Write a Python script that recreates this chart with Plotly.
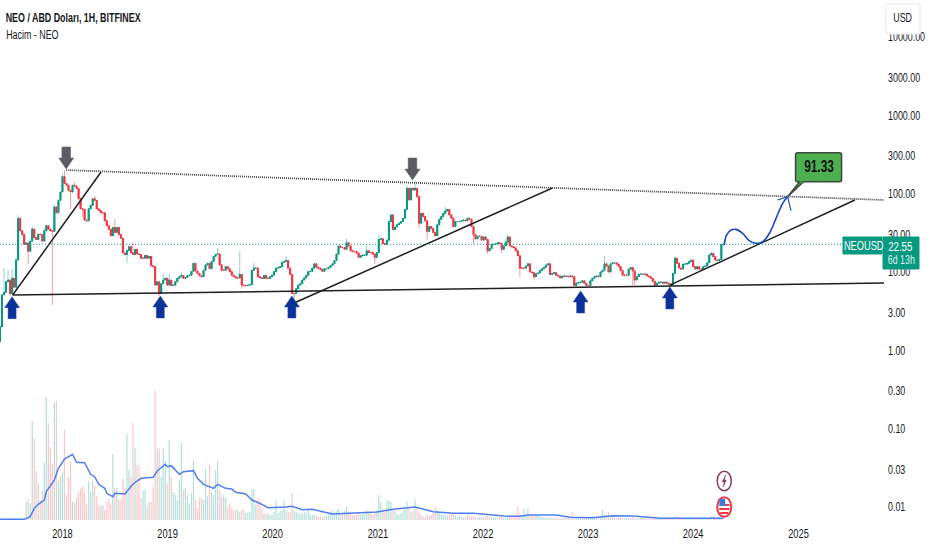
import pandas as pd
import plotly.graph_objects as go

# weekly candles, first one is the week of 2017-05-29
START = "2017-05-29"
FIRST_OPEN = 1.3

closes = [
    2.0, 5.1, 5.5, 7.5, 7.9, 5.3, 8.3, 6.4, 14.3, 48,
    33.6, 30, 22.5, 23.5, 18.4, 24.8, 35.3, 27.5, 26, 30.4,
    30, 24.8, 33.6, 39, 35.3, 33.6, 33, 67.6, 57, 82,
    105, 165, 135, 128, 110, 105, 128, 125, 116, 86,
    64, 63, 46, 45, 64, 71, 86, 82, 64, 61,
    57, 57, 45, 39, 35, 29, 37, 32, 37, 30,
    27, 17.5, 16.7, 18.8, 21, 17.5, 16.7, 19.4, 17, 16.7,
    15, 15, 16.3, 15, 15.8, 12, 11.7, 6.8, 7.5, 5.3,
    7.1, 7.9, 8.3, 6.8, 7.9, 6.7, 6.8, 7.5, 8.3, 8.7,
    9, 8.3, 8.5, 9, 9.1, 10.1, 12.9, 10.3, 9.6, 9,
    8.7, 10.5, 12.3, 12.9, 11, 13.6, 15.8, 16.7, 17, 12.3,
    10.5, 10.5, 11.7, 11, 10.1, 9.1, 8.7, 8.4, 8.4, 9.3,
    6.8, 6.7, 6.7, 6.8, 6.9, 10.5, 11.2, 11.2, 8.7, 8.4,
    8.3, 9, 8.3, 8.3, 8.7, 9.1, 10.1, 11.2, 11.4, 11.7,
    13.3, 13.6, 14, 11.2, 9.3, 5.3, 5.3, 6.1, 6.8, 7.1,
    7.9, 8.4, 9.1, 10.1, 10.2, 11.2, 12.7, 11.5, 11.2, 10.8,
    10.2, 11, 11, 11.4, 12.1, 12.7, 14, 16.9, 21.5, 20.5,
    20.5, 19.5, 23.6, 21.5, 18.6, 18.2, 18.2, 17.4, 15.4, 16.1,
    16.4, 16.4, 18.6, 17.7, 17.7, 16.9, 15.4, 17.7, 26, 26.5,
    23, 22.5, 25.5, 44, 53.5, 34.7, 37.5, 40, 42, 44,
    48.6, 63, 117, 83, 117, 111, 117, 91.5, 42, 56,
    51, 45, 33, 38, 36, 32, 29, 40, 47, 51,
    56, 60, 63, 53.5, 48.6, 38, 44, 44, 44, 45,
    46, 45, 48.6, 47, 38, 30, 26.5, 28.6, 28.6, 25.5,
    28, 26, 18.6, 20, 22.5, 22.5, 23, 23.6, 23, 19.5,
    21.5, 24, 28, 21.5, 21, 20.3, 18.6, 16.1, 11.2, 11.2,
    11.2, 11.9, 12.7, 10, 9.8, 8.7, 9.5, 9.7, 10.5, 11,
    11.5, 12.3, 12.7, 9.3, 9.5, 9.8, 9.1, 8.9, 8.4, 8.8,
    8.9, 8.8, 8.7, 8.9, 8.7, 6.7, 7.2, 7.3, 7.4, 7.7,
    7.2, 6.7, 6.7, 7.7, 8.3, 8.7, 8.9, 8.7, 10, 10.5,
    12.7, 11.9, 10, 12.7, 13.1, 13.1, 12.6, 11.7, 10.4, 9.1,
    9.1, 9.1, 10.9, 11.4, 10.3, 7.9, 8.7, 9.4, 9.4, 9.3,
    9.4, 8.9, 8.7, 8.3, 7.6, 6.8, 7.2, 7.4, 7.4, 7.2,
    7.4, 7.2, 7, 6.8, 9.6, 15, 12.9, 11.2, 10.9, 12.6,
    12.6, 12.9, 13.6, 14.2, 11.7, 10.9, 11.7, 10.9, 10.9, 11.7,
    11.9, 13.1, 16.5, 17.3, 15.7, 14.2, 14, 14.4, 22.2, 22.55,
]

# long wicks only, week number -> price
wick_highs = {
    2: 11.2, 4: 10.5, 6: 11, 9: 53, 10: 50, 16: 38, 22: 36, 27: 72, 31: 180, 32: 198,
    37: 140, 47: 92, 57: 48, 66: 24, 81: 9.5, 84: 9.5, 90: 10, 108: 20, 119: 18.4,
    126: 13, 142: 16, 172: 26.5, 182: 22.5, 188: 30, 202: 128, 206: 147, 221: 68,
    251: 26, 252: 30, 300: 16, 335: 15.7, 353: 18, 358: 23,
}
wick_lows = {
    0: 1.23, 5: 5, 14: 12.6, 26: 3.8, 35: 64, 41: 50, 63: 12.9, 79: 4.9, 120: 6.1,
    146: 4.1, 186: 12.7, 208: 36, 212: 26, 235: 22.5, 242: 17, 249: 17.5, 258: 8.7,
    265: 8, 314: 6.8, 315: 6.8, 325: 6.5,
}

volumes = [
    1, 1, 1, 1, 1, 1, 1, 1, 1, 1,
    1, 1, 1, 55, 62, 50, 297, 245, 147, 110,
    60, 88, 172, 370, 290, 218, 168, 352, 357, 118,
    132, 143, 270, 75, 130, 175, 55, 52, 68, 87,
    95, 100, 85, 45, 117, 85, 118, 105, 72, 45,
    42, 45, 30, 55, 62, 50, 198, 95, 97, 62,
    62, 125, 95, 258, 150, 130, 290, 217, 165, 165,
    65, 88, 92, 40, 55, 55, 100, 388, 215, 215,
    130, 215, 175, 110, 240, 130, 85, 75, 60, 118,
    230, 90, 95, 75, 50, 80, 178, 62, 35, 65,
    68, 60, 155, 70, 165, 85, 75, 150, 178, 90,
    70, 75, 65, 38, 50, 35, 30, 30, 32, 25,
    32, 30, 20, 22, 25, 92, 92, 45, 65, 60,
    35, 20, 20, 20, 15, 15, 25, 60, 20, 28,
    30, 60, 30, 25, 25, 82, 30, 25, 20, 18,
    20, 25, 20, 30, 15, 15, 18, 14, 10, 12,
    8, 10, 14, 20, 25, 30, 22, 28, 35, 20,
    22, 28, 40, 25, 18, 15, 14, 16, 20, 15,
    16, 18, 28, 20, 22, 16, 22, 30, 75, 55,
    30, 25, 60, 58, 55, 30, 28, 18, 16, 22,
    30, 40, 55, 35, 25, 30, 62, 40, 25, 15,
    12, 10, 18, 14, 15, 22, 38, 30, 22, 18,
    15, 16, 14, 15, 18, 22, 14, 10, 12, 10,
    8, 10, 18, 12, 10, 14, 10, 8, 10, 9,
    8, 10, 12, 9, 8, 7, 8, 7, 8, 10,
    7, 6, 8, 9, 10, 12, 14, 40, 22, 15,
    33, 18, 35, 18, 12, 10, 14, 12, 10, 9,
    8, 7, 6, 8, 6, 5, 5, 5, 5, 6,
    7, 9, 8, 10, 25, 10, 8, 7, 6, 6,
    8, 6, 7, 6, 12, 10, 9, 10, 14, 30,
    16, 12, 25, 10, 9, 8, 7, 8, 6, 7,
    5, 6, 5, 6, 8, 6, 5, 5, 6, 7,
    6, 5, 5, 4, 5, 6, 5, 5, 5, 4,
    6, 5, 5, 4, 8, 12, 9, 7, 8, 7,
    6, 6, 7, 6, 7, 8, 6, 6, 5, 6,
    7, 6, 8, 12, 14, 10, 8, 9, 6,
]

# volume moving average, read at its turning points
ma_weeks = [
    0, 12, 15, 17, 19, 22, 23, 27, 29, 32, 36, 38, 42, 45, 47, 49, 52, 53, 56, 57, 62, 66, 70, 76,
    78, 82, 83, 85, 89, 91, 96, 98, 101, 106, 108, 112, 115, 117, 122, 125, 130, 133, 142, 145,
    150, 155, 165, 175, 187, 195, 206, 215, 225, 235, 250, 258, 262, 276, 283, 294, 304, 314, 328, 359,
]
ma_values = [
    2, 2, 10, 35, 47, 60, 85, 120, 155, 183, 197, 173, 172, 137, 130, 107, 95, 80, 70, 80, 78, 108, 125, 128,
    147, 167, 160, 163, 137, 145, 148, 125, 107, 95, 107, 95, 93, 83, 78, 60, 47, 37, 39, 41,
    31, 32, 18, 21, 24, 32, 39, 25, 20, 20, 12, 11, 15, 15, 8, 7, 13, 12, 5, 5,
]

y_ticks = [10000, 3000, 1000, 300, 100, 30, 10, 3, 1, 0.3, 0.1, 0.03, 0.01]
y_labels = ["10000.00", "3000.00", "1000.00", "300.00", "100.00", "30.00", "10.00",
            "3.00", "1.00", "0.30", "0.10", "0.03", "0.01"]
x_ticks = ["2018-01-01", "2019-01-01", "2020-01-01", "2021-01-01",
           "2022-01-01", "2023-01-01", "2024-01-01", "2025-01-01"]
x_labels = ["2018", "2019", "2020", "2021", "2022", "2023", "2024", "2025"]

# drawn trend lines
support_dates = ["2017-07-12", "2025-10-25"]
support_prices = [5.08, 7.24]
resistance_dates = ["2018-01-14", "2025-10-25"]
resistance_prices = [200, 83]
rise1_dates = ["2017-07-12", "2018-05-15"]
rise1_prices = [5.08, 189]
rise2_dates = ["2020-03-08", "2022-08-30"]
rise2_prices = [3.9, 118]
rise3_dates = ["2023-10-12", "2025-07-16"]
rise3_prices = [6.8, 83]

# projected path
path_dates = ["2024-04-18", "2024-04-26", "2024-05-12", "2024-05-29", "2024-06-21", "2024-07-15",
              "2024-08-07", "2024-08-30", "2024-09-22", "2024-10-15", "2024-11-07", "2024-11-24"]
path_prices = [22.1, 29.6, 34.4, 35, 31.2, 24.9, 23.2, 24.4, 31.2, 48.4, 75.3, 91.5]
head_dates = ["2024-10-20", "2024-11-24", "2024-12-06"]
head_prices = [83, 91.5, 60.7]

up_arrow_dates = ["2017-07-10", "2018-12-07", "2020-03-08", "2022-12-06", "2023-10-12"]
up_arrow_prices = [4.84, 4.94, 4.94, 5.71, 6.43]
down_arrow_dates = ["2018-01-14", "2021-05-01"]
down_arrow_prices = [206, 149]

TARGET_DATE = "2024-11-24"
TARGET_PRICE = 91.33
LAST_PRICE = 22.55

FONT = "Liberation Sans"
TEXT = "#131722"
GREEN = "#089981"
RED = "#f23645"

dates = pd.date_range(START, periods=len(closes), freq="7D")
opens = [FIRST_OPEN] + closes[:-1]
body_high = [max(o, c) for o, c in zip(opens, closes)]
body_low = [min(o, c) for o, c in zip(opens, closes)]
highs = [wick_highs.get(i, h) for i, h in enumerate(body_high)]
lows = [wick_lows.get(i, l) for i, l in enumerate(body_low)]

fig = go.Figure()

# volume pane shares the price area, on its own hidden axis
vol_colors = ["rgba(8,153,129,0.3)" if c >= o else "rgba(242,54,69,0.28)" for o, c in zip(opens, closes)]
fig.add_trace(go.Bar(x=dates[:len(volumes)], y=volumes, yaxis="y2", marker_color=vol_colors,
                     marker_line_width=0, width=4.2 * 86400000))
ma_dates = [dates[0] + pd.Timedelta(days=7 * w) for w in ma_weeks]
fig.add_trace(go.Scatter(x=ma_dates, y=ma_values, yaxis="y2", mode="lines",
                         line=dict(color="#4f7fef", width=1.5)))

# wicks are pale once scaled down, bodies stay solid
fig.add_trace(go.Candlestick(x=dates, open=opens, high=highs, low=lows, close=closes,
                             increasing=dict(line=dict(color="rgba(8,153,129,0.45)", width=1), fillcolor=GREEN),
                             decreasing=dict(line=dict(color="rgba(242,54,69,0.5)", width=1), fillcolor=RED)))
fig.add_trace(go.Candlestick(x=dates, open=opens, high=body_high, low=body_low, close=closes,
                             increasing=dict(line=dict(color=GREEN, width=1), fillcolor=GREEN),
                             decreasing=dict(line=dict(color=RED, width=1), fillcolor=RED)))

for xs, ys in [(support_dates, support_prices), (rise1_dates, rise1_prices),
               (rise2_dates, rise2_prices), (rise3_dates, rise3_prices)]:
    fig.add_trace(go.Scatter(x=xs, y=ys, mode="lines", line=dict(color="#1e1e1e", width=1.5)))
fig.add_trace(go.Scatter(x=resistance_dates, y=resistance_prices, mode="lines",
                         line=dict(color="#444444", width=1.8, dash="1px,1px")))
fig.add_trace(go.Scatter(x=path_dates, y=path_prices, mode="lines",
                         line=dict(color="#1848c0", width=1.6, shape="spline")))
fig.add_trace(go.Scatter(x=head_dates, y=head_prices, mode="lines", line=dict(color="#1848c0", width=1.2)))

shapes = [dict(type="line", xref="paper", x0=0, x1=1, yref="y", y0=LAST_PRICE, y1=LAST_PRICE,
               line=dict(color=GREEN, width=1, dash="1px,2px"))]

UP_PATH = "M 0 0 L 7.5 -11 L 4 -11 L 4 -22 L -4 -22 L -4 -11 L -7.5 -11 Z"
DOWN_PATH = "M 0 0 L 7.5 11 L 4.3 11 L 4.3 22 L -4.3 22 L -4.3 11 L -7.5 11 Z"
for d, p in zip(up_arrow_dates, up_arrow_prices):
    shapes.append(dict(type="path", path=UP_PATH, xsizemode="pixel", ysizemode="pixel", xref="x", yref="y",
                       xanchor=d, yanchor=p, fillcolor="#0c3299", line=dict(color="#2a4fa8", width=0.5)))
for d, p in zip(down_arrow_dates, down_arrow_prices):
    shapes.append(dict(type="path", path=DOWN_PATH, xsizemode="pixel", ysizemode="pixel", xref="x", yref="y",
                       xanchor=d, yanchor=p, fillcolor="#5b5c66", line=dict(color="#5b5c66", width=0.5)))

# callout around the target
CALLOUT = ("M 12 15 L 0 0 L 16 15 L 52 15 Q 54 15 54 17 L 54 42 Q 54 44 52 44 "
           "L 10 44 Q 8 44 8 42 L 8 17 Q 8 15 10 15 Z")
shapes.append(dict(type="path", path=CALLOUT, xsizemode="pixel", ysizemode="pixel", xref="x", yref="y",
                   xanchor=TARGET_DATE, yanchor=TARGET_PRICE, fillcolor="#4caf50",
                   line=dict(color="#3f4a3f", width=1.5)))

# price tag boxes and currency button, in figure pixels
W, H = 932.0, 550.0
PLOT_W, PLOT_H = 884.0, 522.0


def px(x):
    return x / PLOT_W


def py(y):
    return 1 - y / PLOT_H


def box(x0, x1, y0, y1, fill, border=None):
    return dict(type="rect", xref="paper", yref="paper", x0=px(x0), x1=px(x1), y0=py(y0), y1=py(y1),
                fillcolor=fill, line=dict(color=border or fill, width=1))


shapes.append(box(843, 882, 237, 254, GREEN))
shapes.append(box(883, 919, 237, 269, GREEN))
shapes.append(box(886, 920, 4, 34, "#ffffff", "#e6e8ee"))

# event icons at the last bar
ICON_DATE = "2024-04-18"
shapes.append(dict(type="path", xsizemode="pixel", ysizemode="pixel", xref="x", yref="paper",
                   xanchor=ICON_DATE, yanchor=py(481), fillcolor="#ffffff", line=dict(color="#8a3a5c", width=1.5),
                   path="M -7 0 C -7 -13 7 -13 7 0 C 7 13 -7 13 -7 0 Z"))
shapes.append(dict(type="path", xsizemode="pixel", ysizemode="pixel", xref="x", yref="paper",
                   xanchor=ICON_DATE, yanchor=py(481), fillcolor="#8a3a5c", line=dict(color="#8a3a5c", width=0.5),
                   path="M 1.5 6 L -2 -1 L 0 -1 L -1 -6 L 2 1 L 0 1 Z"))
shapes.append(dict(type="path", xsizemode="pixel", ysizemode="pixel", xref="x", yref="paper",
                   xanchor=ICON_DATE, yanchor=py(507), fillcolor="#ffffff", line=dict(color=RED, width=2),
                   path="M -7 0 C -7 -13 7 -13 7 0 C 7 13 -7 13 -7 0 Z"))
shapes.append(dict(type="path", xsizemode="pixel", ysizemode="pixel", xref="x", yref="paper",
                   xanchor=ICON_DATE, yanchor=py(507), fillcolor=RED, line=dict(width=0),
                   path="M -5 -1 L 5 -1 L 5 -3 L -5 -3 Z M -4 -5 L 4 -5 L 4 -7 L -4 -7 Z M 1 3 L 5 3 L 5 1 L 1 1 Z"))
shapes.append(dict(type="path", xsizemode="pixel", ysizemode="pixel", xref="x", yref="paper",
                   xanchor=ICON_DATE, yanchor=py(507), fillcolor="#3f78e0", line=dict(width=0),
                   path="M -5 1 L -5 8 L 1 8 L 1 1 Z"))


# anchored on the centre, the squeeze below keeps the centre in place
def label(x, y, text, color=TEXT, size=12):
    return dict(xref="paper", yref="paper", x=px(x), y=py(y), text=text, showarrow=False,
                xanchor="center", yanchor="middle", font=dict(family=FONT, size=size, color=color))


annotations = [
    label(73, 18, "<b>NEO / ABD Doları, 1H, BITFINEX</b>", size=12),
    label(32, 35, "Hacim - NEO", size=12),
    label(903, 18, "USD", size=12),
    label(863, 246, "NEOUSD", color="#ffffff", size=12.5),
    label(900, 246, "22.55", color="#ffffff", size=13),
    label(902, 260, "6d 13h", color="#d9f2ee", size=12),
    dict(xref="x", yref="y", x=TARGET_DATE, y=1.9606, xshift=31, yshift=30, text="<b>91.33</b>", showarrow=False,
         font=dict(family=FONT, size=16, color="#111111")),
]

fig.update_layout(
    width=int(W),
    height=int(H),
    margin=dict(l=0, r=int(W - PLOT_W), t=0, b=int(H - PLOT_H), pad=0),
    paper_bgcolor="#ffffff",
    plot_bgcolor="#ffffff",
    showlegend=False,
    hovermode=False,
    font=dict(family=FONT, size=12, color=TEXT),
    shapes=shapes,
    annotations=annotations,
    xaxis=dict(range=["2017-05-29", "2025-10-25"], rangeslider=dict(visible=False), showgrid=False,
               zeroline=False, showline=False, tickmode="array", tickvals=x_ticks, ticktext=x_labels,
               ticks="", tickangle=0, ticklabelstandoff=2, tickfont=dict(family=FONT, size=12.5, color=TEXT)),
    yaxis=dict(type="log", range=[-2.1917, 4.472], side="right", showgrid=False, zeroline=False,
               showline=False, tickmode="array", tickvals=y_ticks, ticktext=y_labels, ticks="",
               automargin=False, ticklabelstandoff=3, tickfont=dict(family=FONT, size=12, color=TEXT)),
    yaxis2=dict(overlaying="y", range=[-6, 1560], visible=False),
)

# the reference type is squeezed sideways, no condensed font is installed
SQUEEZE = """
document.body.style.margin = '0';
document.querySelectorAll('svg text').forEach(function (t) {
    var n = t.getComputedTextLength();
    if (n > 0) {
        t.setAttribute('lengthAdjust', 'spacingAndGlyphs');
        t.setAttribute('textLength', n * 0.74);
    }
});
"""

fig.write_html("out.html", config=dict(displayModeBar=False), post_script=SQUEEZE)
